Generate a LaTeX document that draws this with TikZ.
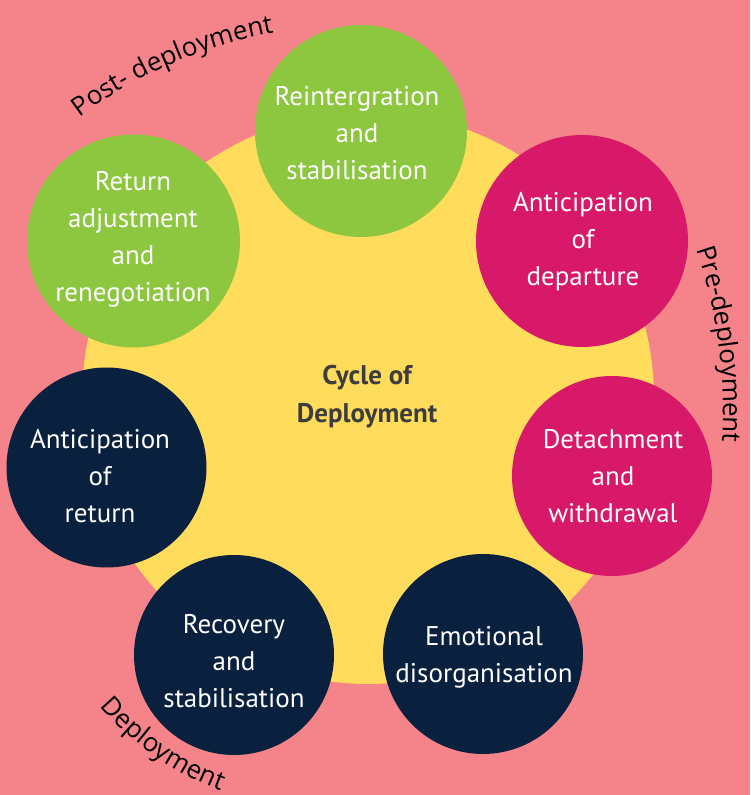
\documentclass[tikz,border=0pt]{standalone}
\usepackage{fontspec}
\setmainfont{PT Sans}
\newfontfamily\arcfont{Open Sans}
\usetikzlibrary{decorations.text}

\definecolor{bgpink}{HTML}{F48489}
\definecolor{sunyellow}{HTML}{FFDC5C}
\definecolor{leafgreen}{HTML}{8DC63F}
\definecolor{berry}{HTML}{D81868}
\definecolor{navy}{HTML}{0A203F}
\definecolor{inktext}{HTML}{3D3D3D}

\tikzset{
  phase/.style={circle, fill=#1, draw=none},
  phaselabel/.style={text=white, align=center,
    font=\fontsize{27}{37}\selectfont, inner sep=0pt},
  hublabel/.style={text=inktext, align=center,
    font=\bfseries\fontsize{27}{38}\selectfont, inner sep=0pt},
  arclabel/.style={decorate, decoration={text along path,
    text align=center, text={|\arcfont\fontsize{26}{30}\selectfont|#1}}}
}

\begin{document}
\begin{tikzpicture}[x=1pt, y=1pt]
  % canvas
  \fill[bgpink] (0,0) rectangle (750,795);
  \useasboundingbox (0,0) rectangle (750,795);

  % central disc
  \fill[sunyellow] (368,397) circle[radius=286];
  \node[hublabel] (hub) at (367,398) {Cycle of\\Deployment};

  % phase discs
  \fill[leafgreen] (361,664) circle[radius=106];
  \fill[berry]     (582,554) circle[radius=106];
  \fill[berry]     (612,319) circle[radius=100];
  \fill[navy]      (483,141) circle[radius=100];
  \fill[navy]      (234,140) circle[radius=100];
  \fill[navy]      (106.5,327.5) circle[radius=100];
  \fill[leafgreen] (133.5,554) circle[radius=106.5];

  % phase labels
  \node[phaselabel] (reint)  at (357,662) {Reintergration\\and\\stabilisation};
  \node[phaselabel] (antdep) at (583,553) {Anticipation\\of\\departure};
  \node[phaselabel] (detach) at (613,319) {Detachment\\and\\withdrawal};
  \node[phaselabel] (emot)   at (484,138) {Emotional\\disorganisation};
  \node[phaselabel] (recov)  at (234,134) {Recovery\\and\\stabilisation};
  \node[phaselabel] (antret) at (100,319) {Anticipation\\of\\return};
  \node[phaselabel] (retadj) at (133,556) {Return\\adjustment\\and\\renegotiation};

  % stage captions set along arcs
  \path[arclabel={Post- deployment}]
    (358,303) ++(129:467) arc[start angle=129, end angle=98, radius=467];
  \path[arclabel={Pre-deployment}]
    (223,385) ++(19:500) arc[start angle=19, end angle=-4, radius=500];
  \path[arclabel={Deployment}]
    (323,279) ++(219:293) arc[start angle=219, end angle=251, radius=293];
\end{tikzpicture}
\end{document}
